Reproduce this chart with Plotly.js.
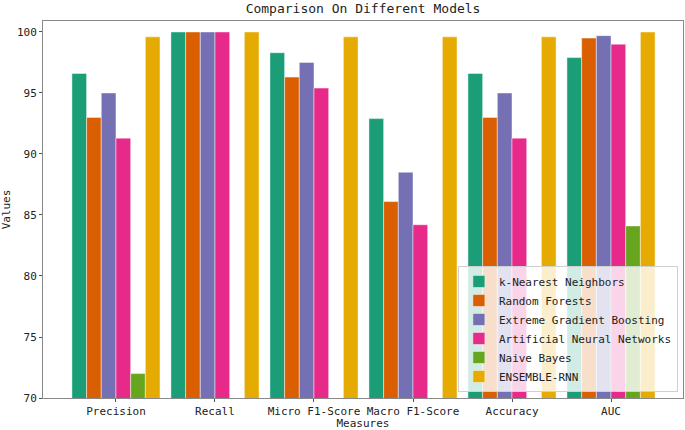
<!DOCTYPE html>
<html>
<head>
<meta charset="utf-8">
<script src="https://cdn.plot.ly/plotly-3.0.1.min.js"></script>
<style>
  html, body { margin: 0; padding: 0; background: #fff; }
  #chart { width: 685px; height: 430px; }
</style>
</head>
<body>
<div id="chart"></div>
<script>
// measures on the x axis
const measures = ['Precision', 'Recall', 'Micro F1-Score', 'Macro F1-Score', 'Accuracy', 'AUC'];

// one array per model (null = below the 70 cut-off, not drawn)
const knn      = [96.6, 100, 98.3, 92.9, 96.6, 97.9];
const rf       = [93.0, 100, 96.3, 86.1, 93.0, 99.5];
const xgb      = [95.0, 100, 97.5, 88.5, 95.0, 99.7];
const ann      = [91.3, 100, 95.4, 84.2, 91.3, 99.0];
const nb       = [72.0, null, null, null, null, 84.1];
const ensemble = [99.6, 100, 99.6, 99.6, 99.6, 100];

const models = ['k-Nearest Neighbors', 'Random Forests', 'Extreme Gradient Boosting',
                'Artificial Neural Networks', 'Naive Bayes', 'ENSEMBLE-RNN'];
const series = [knn, rf, xgb, ann, nb, ensemble];
const colors = ['#1b9e77', '#d95f02', '#7570b3', '#e7298a', '#66a61e', '#e6ab02'];

const font = 'DejaVu Sans Mono, Liberation Mono, monospace';

var data = series.map(function(vals, i) {
    return {
        x: measures,
        y: vals,
        name: models[i],
        type: 'bar',
        marker: {
            color: colors[i],
            line: {color: 'rgba(255,255,255,0.45)', width: 1}
        },
        hoverinfo: 'x+y+name'
    };
});

var layout = {
    width: 685,
    height: 430,
    margin: {l: 43, r: 2, t: 21, b: 32},
    paper_bgcolor: '#fff',
    plot_bgcolor: '#fff',
    font: {family: font, size: 11, color: '#222'},
    title: {
        text: 'Comparison On Different Models',
        font: {family: font, size: 13, color: '#222'},
        x: 0.53, xanchor: 'center',
        y: 0.99, yanchor: 'top'
    },
    barmode: 'group',
    bargap: 0.11,
    bargroupgap: 0,
    xaxis: {
        title: {text: 'Measures', font: {size: 11}, standoff: 4},
        range: [-0.737, 5.727],
        showline: true, mirror: true, linecolor: '#888', linewidth: 1,
        ticks: 'outside', ticklen: 3, tickcolor: '#555',
        showgrid: false, zeroline: false,
        tickfont: {size: 11}
    },
    yaxis: {
        title: {text: 'Values', font: {size: 11}, standoff: 6},
        range: [70, 100.9],
        tickvals: [70, 75, 80, 85, 90, 95, 100],
        showline: true, mirror: true, linecolor: '#888', linewidth: 1,
        ticks: 'outside', ticklen: 3, tickcolor: '#555',
        showgrid: false, zeroline: false,
        tickfont: {size: 11}
    },
    legend: {
        x: 0.992, xanchor: 'right',
        y: 0.016, yanchor: 'bottom',
        bgcolor: 'rgba(255,255,255,0.8)',
        bordercolor: '#d0d0d0', borderwidth: 1,
        font: {family: font, size: 11, color: '#222'},
        tracegroupgap: 0
    },
    showlegend: true
};

Plotly.newPlot('chart', data, layout, {displayModeBar: false, staticPlot: true});
</script>
</body>
</html>
